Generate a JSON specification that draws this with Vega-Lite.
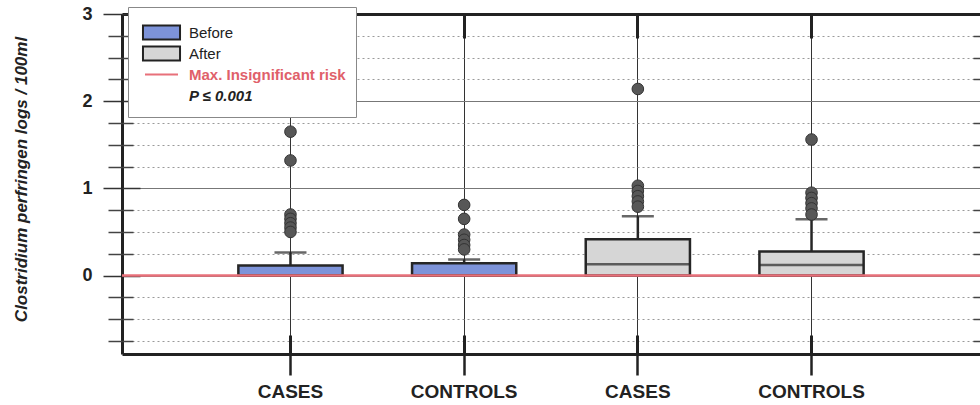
{
  "$schema": "https://vega.github.io/schema/vega-lite/v6.json",
  "width": 858,
  "height": 340,
  "autosize": {"type": "none"},
  "padding": {"left": 122, "top": 14, "right": 0, "bottom": 51},
  "background": "white",
  "config": {
    "view": {"stroke": null},
    "font": "Liberation Sans",
    "axis": {"labelFont": "Liberation Sans", "titleFont": "Liberation Sans"},
    "legend": {"labelFont": "Liberation Sans"}
  },
  "datasets": {
    "boxes": [
      {"key": "CASES|Before", "group": "CASES", "phase": "Before", "q1": 0, "median": 0, "q3": 0.115, "upper": 0.265},
      {"key": "CONTROLS|Before", "group": "CONTROLS", "phase": "Before", "q1": 0, "median": 0, "q3": 0.14, "upper": 0.185},
      {"key": "CASES|After", "group": "CASES", "phase": "After", "q1": 0, "median": 0.13, "q3": 0.415, "upper": 0.68},
      {"key": "CONTROLS|After", "group": "CONTROLS", "phase": "After", "q1": 0, "median": 0.12, "q3": 0.275, "upper": 0.645}
    ],
    "outliers": [
      {"key": "CASES|Before", "value": 1.65},
      {"key": "CASES|Before", "value": 1.32},
      {"key": "CASES|Before", "value": 0.70},
      {"key": "CASES|Before", "value": 0.65},
      {"key": "CASES|Before", "value": 0.60},
      {"key": "CASES|Before", "value": 0.55},
      {"key": "CASES|Before", "value": 0.50},
      {"key": "CONTROLS|Before", "value": 0.81},
      {"key": "CONTROLS|Before", "value": 0.65},
      {"key": "CONTROLS|Before", "value": 0.47},
      {"key": "CONTROLS|Before", "value": 0.41},
      {"key": "CONTROLS|Before", "value": 0.35},
      {"key": "CONTROLS|Before", "value": 0.30},
      {"key": "CASES|After", "value": 2.14},
      {"key": "CASES|After", "value": 1.03},
      {"key": "CASES|After", "value": 0.97},
      {"key": "CASES|After", "value": 0.91},
      {"key": "CASES|After", "value": 0.85},
      {"key": "CASES|After", "value": 0.79},
      {"key": "CONTROLS|After", "value": 1.56},
      {"key": "CONTROLS|After", "value": 0.95},
      {"key": "CONTROLS|After", "value": 0.89},
      {"key": "CONTROLS|After", "value": 0.83},
      {"key": "CONTROLS|After", "value": 0.77},
      {"key": "CONTROLS|After", "value": 0.70}
    ],
    "threshold": [{"label": "Max. Insignificant risk", "limit": 0}]
  },
  "layer": [
    {
      "data": {"name": "boxes"},
      "mark": {"type": "bar", "width": {"band": 0.6}},
      "encoding": {
        "x": {
          "field": "key", "type": "nominal", "sort": null,
          "scale": {"type": "band", "domain": ["CASES|Before", "CONTROLS|Before", "CASES|After", "CONTROLS|After"], "paddingInner": 0, "paddingOuter": 0.47},
          "axis": {"orient": "bottom", "title": null, "labelExpr": "split(datum.label, '|')[0]", "labelFontWeight": "bold", "labelFontSize": 19, "labelColor": "#222", "labelPadding": 7, "labelAngle": 0, "tickSize": 21, "tickWidth": 2.5, "tickColor": "#222", "domainColor": "#222", "domainWidth": 3, "grid": true, "gridColor": "#333", "gridWidth": 1, "bandPosition": 0.5, "zindex": 0}
        },
        "y": {
          "field": "q1", "type": "quantitative",
          "scale": {"domain": [-0.9, 3], "nice": false, "zero": false},
          "axis": {"orient": "left", "title": "Clostridium perfringen logs / 100ml", "titleFontSize": 17, "titleFontWeight": "bold", "titleFontStyle": "italic", "titleColor": "#222", "titleX": -101, "titleY": 165, "titleAngle": -90, "titleBaseline": "middle", "titleAlign": "center", "values": [0, 1, 2, 3], "labelFontSize": 18, "labelFontWeight": "bold", "labelColor": "#222", "labelPadding": 11, "tickSize": 19, "tickWidth": 1.5, "tickColor": "#333", "domainWidth": 3, "domainColor": "#222", "grid": true, "gridColor": "#777", "gridWidth": 1, "zindex": 0}
        },
        "y2": {"field": "q3"},
        "fill": {
          "field": "phase", "type": "nominal",
          "scale": {"domain": ["Before", "After", "Max. Insignificant risk", "P ≤ 0.001"], "range": ["#7d93d9", "#d6d6d6", "#e8707a", "#ffffff"]},
          "legend": {
            "orient": "none", "legendX": 6, "legendY": -7, "title": " ", "titleFontSize": 1, "titlePadding": 6, "padding": 10,
            "fillColor": "white", "strokeColor": "#888",
            "symbolSize": 225, "symbolOffset": 15, "labelOffset": 19, "rowPadding": -2,
            "symbolType": {"expr": "datum.value === 'Max. Insignificant risk' ? 'M-2.47,-0.93M-2.2,0H2.2M2.47,0.93' : 'M-2.47,-0.93H2.47V0.93H-2.47Z'"},
            "symbolStrokeColor": {"expr": "datum.value === 'Max. Insignificant risk' ? '#e8707a' : datum.value === 'P ≤ 0.001' ? 'transparent' : '#222'"},
            "symbolStrokeWidth": 2,
            "labelFontSize": 15, "labelLimit": 300,
            "labelColor": {"expr": "datum.value === 'Max. Insignificant risk' ? '#e0606a' : '#222'"},
            "labelFontWeight": {"expr": "datum.value === 'Before' || datum.value === 'After' ? 'normal' : 'bold'"},
            "labelFontStyle": {"expr": "datum.value === 'P ≤ 0.001' ? 'italic' : 'normal'"}
          }
        }
      }
    },
    {
      "data": {"name": "boxes"},
      "mark": {"type": "bar", "width": {"band": 0.6}, "filled": false, "stroke": "#262626", "strokeWidth": 2.5},
      "encoding": {
        "x": {
          "field": "key", "type": "nominal", "sort": null,
          "scale": {"type": "band", "domain": ["CASES|Before", "CONTROLS|Before", "CASES|After", "CONTROLS|After"], "paddingInner": 0, "paddingOuter": 0.47},
          "axis": null
        },
        "y": {
          "field": "q1", "type": "quantitative",
          "scale": {"domain": [-0.9, 3], "nice": false, "zero": false},
          "axis": null
        },
        "y2": {"field": "q3"}
      }
    },
    {
      "data": {"name": "boxes"},
      "mark": {"type": "tick", "size": 104, "thickness": 2.5, "color": "#262626"},
      "encoding": {
        "x": {
          "field": "key", "type": "nominal", "sort": null,
          "scale": {"type": "band", "domain": ["CASES|Before", "CONTROLS|Before", "CASES|After", "CONTROLS|After"], "paddingInner": 0, "paddingOuter": 0.47},
          "axis": {"orient": "bottom", "title": null, "labels": false, "domain": false, "grid": false, "tickSize": -19, "tickWidth": 3, "tickColor": "#222", "bandPosition": 0.5}
        },
        "y": {
          "field": "median", "type": "quantitative",
          "scale": {"domain": [-0.9, 3], "nice": false, "zero": false},
          "axis": {"orient": "left", "title": null, "values": [0, 1, 2, 3], "labels": false, "domain": false, "grid": false, "tickSize": -18, "tickWidth": 1.5, "tickColor": "#333"}
        }
      }
    },
    {
      "data": {"name": "boxes"},
      "mark": {"type": "rule", "strokeWidth": 2.5, "color": "#262626"},
      "encoding": {
        "x": {
          "field": "key", "type": "nominal", "sort": null,
          "scale": {"type": "band", "domain": ["CASES|Before", "CONTROLS|Before", "CASES|After", "CONTROLS|After"], "paddingInner": 0, "paddingOuter": 0.47},
          "axis": {"orient": "top", "title": null, "labels": false, "grid": false, "tickSize": -24, "tickWidth": 3, "tickColor": "#222", "domainWidth": 3, "domainColor": "#222", "bandPosition": 0.5}
        },
        "y": {
          "field": "q3", "type": "quantitative",
          "scale": {"domain": [-0.9, 3], "nice": false, "zero": false},
          "axis": {"orient": "left", "title": null, "values": [-0.75, -0.5, -0.25, 0.25, 0.5, 0.75, 1.25, 1.5, 1.75, 2.25, 2.5, 2.75], "labels": false, "domain": false, "tickSize": 14, "tickWidth": 1.5, "tickColor": "#444", "grid": true, "gridColor": "#9a9a9a", "gridDash": [2, 3], "gridWidth": 1, "zindex": 0}
        },
        "y2": {"field": "upper"}
      }
    },
    {
      "data": {"name": "boxes"},
      "mark": {"type": "tick", "size": 32, "thickness": 2.5, "color": "#262626"},
      "encoding": {
        "x": {
          "field": "key", "type": "nominal", "sort": null,
          "scale": {"type": "band", "domain": ["CASES|Before", "CONTROLS|Before", "CASES|After", "CONTROLS|After"], "paddingInner": 0, "paddingOuter": 0.47},
          "axis": null
        },
        "y": {
          "field": "upper", "type": "quantitative",
          "scale": {"domain": [-0.9, 3], "nice": false, "zero": false},
          "axis": {"orient": "left", "title": null, "values": [-0.75, -0.5, -0.25, 0.25, 0.5, 0.75, 1.25, 1.5, 1.75, 2.25, 2.5, 2.75], "labels": false, "domain": false, "grid": false, "tickSize": -11, "tickWidth": 1.5, "tickColor": "#444"}
        }
      }
    },
    {
      "data": {"name": "outliers"},
      "mark": {"type": "point", "filled": true, "size": 135, "fill": "#575757", "stroke": "#333", "strokeWidth": 1, "opacity": 1},
      "encoding": {
        "x": {
          "field": "key", "type": "nominal", "sort": null,
          "scale": {"type": "band", "domain": ["CASES|Before", "CONTROLS|Before", "CASES|After", "CONTROLS|After"], "paddingInner": 0, "paddingOuter": 0.47},
          "axis": null
        },
        "y": {
          "field": "value", "type": "quantitative",
          "scale": {"domain": [-0.9, 3], "nice": false, "zero": false},
          "axis": {"orient": "right", "title": null, "values": [-0.75, -0.5, -0.25, 0.25, 0.5, 0.75, 1.25, 1.5, 1.75, 2.25, 2.5, 2.75], "labels": false, "domain": false, "grid": false, "tickSize": -7, "tickWidth": 1.5, "tickColor": "#444"}
        }
      }
    },
    {
      "data": {"name": "threshold"},
      "mark": {"type": "rule", "color": "#e8707a", "strokeWidth": 2.5},
      "encoding": {
        "y": {
          "field": "limit", "type": "quantitative",
          "scale": {"domain": [-0.9, 3], "nice": false, "zero": false},
          "axis": null
        }
      }
    }
  ],
  "resolve": {"axis": {"x": "independent", "y": "independent"}}
}
